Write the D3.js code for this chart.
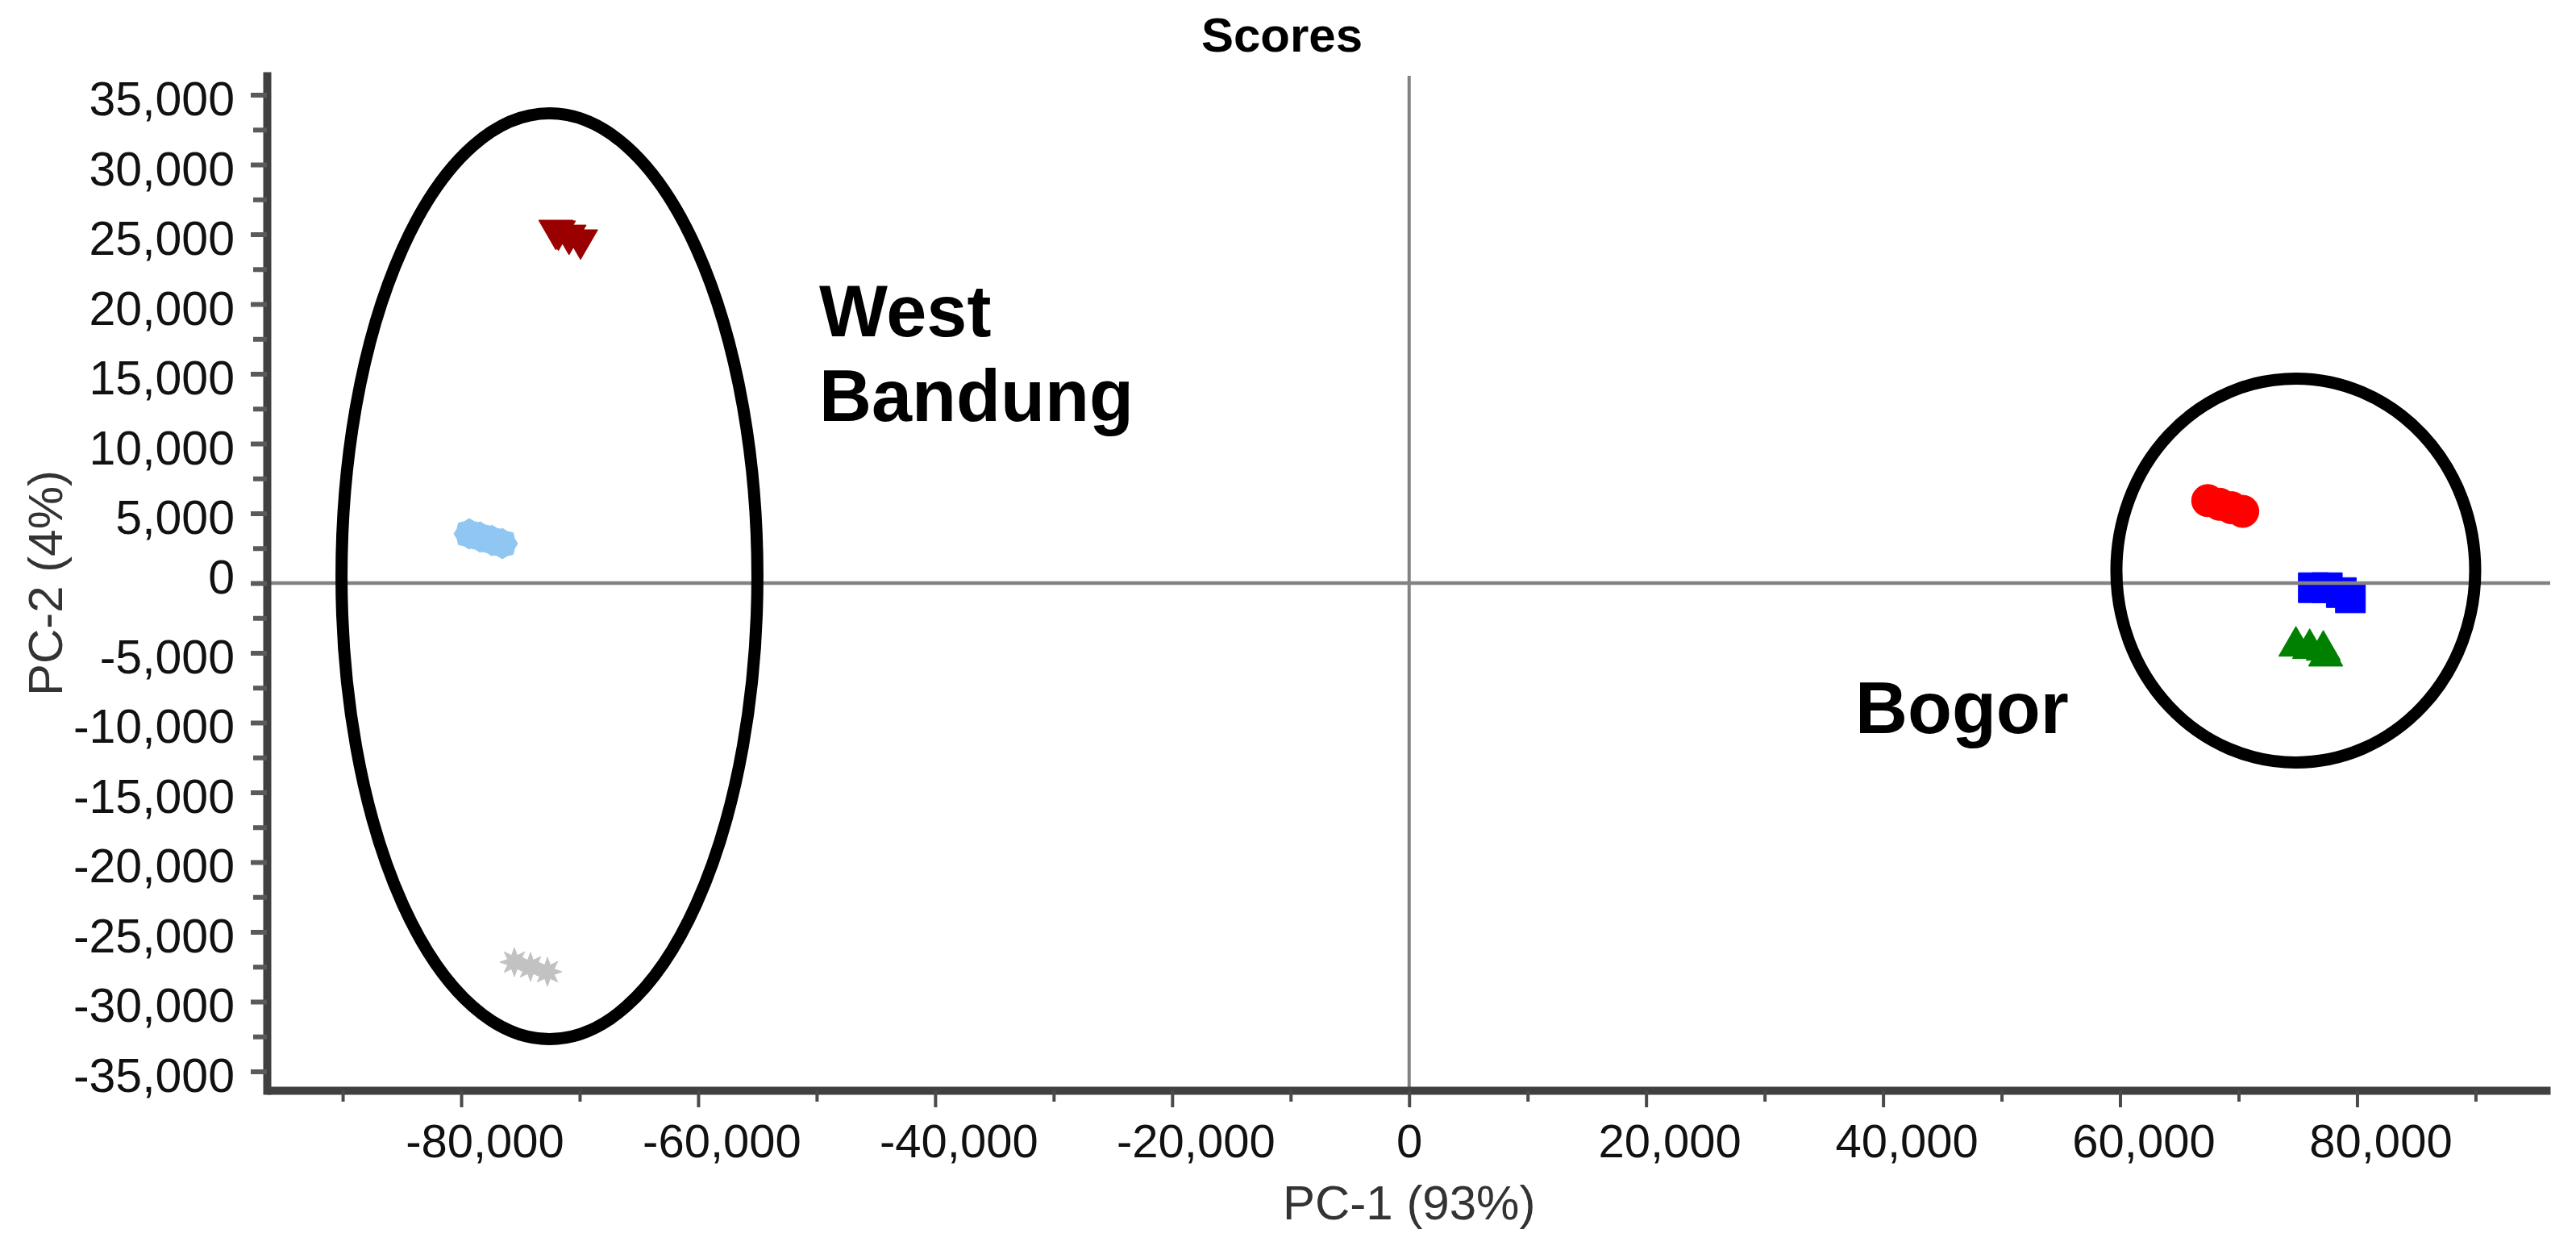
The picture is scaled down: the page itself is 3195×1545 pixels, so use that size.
<!DOCTYPE html>
<html><head><meta charset="utf-8">
<script src="https://cdn.jsdelivr.net/npm/d3@7"></script>
<style>html,body{margin:0;padding:0;background:#fff;} svg{display:block;}</style>
</head><body>
<svg id="chart" width="3195" height="1545"></svg>
<script>
// ---------- data ----------
const chartTitle = "Scores";
const xAxisTitle = "PC-1 (93%)";
const yAxisTitle = "PC-2 (4%)";

const xDomain = [-96400, 96300];
const yDomain = [-36360, 36360];
const xMajorTicks = [-80000, -60000, -40000, -20000, 0, 20000, 40000, 60000, 80000];
const xMinorTicks = [-90000, -70000, -50000, -30000, -10000, 10000, 30000, 50000, 70000, 90000];
const yMajorTicks = [35000, 30000, 25000, 20000, 15000, 10000, 5000, 0, -5000, -10000, -15000, -20000, -25000, -30000, -35000];
const yMinorTicks = [32500, 27500, 22500, 17500, 12500, 7500, 2500, -2500, -7500, -12500, -17500, -22500, -27500, -32500];

// sample scores [PC-1, PC-2]
const darkRedPoints   = [[-72010, 25300], [-71800, 25250], [-70900, 24950], [-69930, 24610]];
const lightBluePoints = [[-79320, 3530], [-78400, 3300], [-77400, 3050], [-76530, 2830]];
const greyPoints      = [[-75510, -27170], [-74150, -27510], [-72720, -27860]];
const redPoints       = [[67400, 5910], [68400, 5650], [69400, 5400], [70350, 5140]];
const bluePoints      = [[76310, -330], [77490, -330], [78670, -680], [79440, -1060]];
const greenPoints     = [[74840, -4530], [76000, -4700], [77150, -4820], [77350, -5240]];

// cluster outlines (centre and radii in score units)
const clusterNames = ["West Bandung", "Bogor"];
const clusterCx = [-72550, 74830];
const clusterCy = [490, 900];
const clusterRx = [17550, 15140];
const clusterRy = [33180, 13760];

// annotation labels
const annotationLines = [["West", "Bandung"], ["Bogor"]];
const annotationX = [-49790, 37640];
const annotationY = [[17690, 11620], [-10750]];

// ---------- drawing ----------
const svg = d3.select("#chart");
const FONT = "'Liberation Sans', Arial, sans-serif";

const x = d3.scaleLinear().domain(xDomain).range([331, 3163]);
const y = d3.scaleLinear().domain(yDomain).range([1352, 94]);

function starType(points, inner) {
  return {
    draw(ctx, size) {
      const r = Math.sqrt(size / Math.PI);
      for (let i = 0; i < points * 2; i++) {
        const a = Math.PI * i / points - Math.PI / 2;
        const rr = i % 2 ? r * inner : r;
        const px = rr * Math.cos(a), py = rr * Math.sin(a);
        if (i) ctx.lineTo(px, py); else ctx.moveTo(px, py);
      }
      ctx.closePath();
    }
  };
}

const series = [
  {pts: darkRedPoints,   color: "#9b0000", type: d3.symbolTriangle, size: 786, rot: 180},
  {pts: lightBluePoints, color: "#8fc7f2", type: starType(8, 0.86), size: 1134, rot: 0},
  {pts: greyPoints,      color: "#c2c2c2", type: starType(8, 0.5), size: 1018, rot: 0},
  {pts: redPoints,       color: "#ff0000", type: d3.symbolCircle, size: 1257, rot: 0},
  {pts: bluePoints,      color: "#0000ff", type: d3.symbolSquare, size: 1369, rot: 0},
  {pts: greenPoints,     color: "#008000", type: d3.symbolTriangle, size: 786, rot: 0}
];

const marks = svg.append("g");
series.forEach(s => {
  const sym = d3.symbol().type(s.type).size(s.size);
  marks.selectAll(null).data(s.pts).enter().append("path")
    .attr("d", sym)
    .attr("transform", d => `translate(${x(d[0])},${y(d[1])}) rotate(${s.rot})`)
    .attr("fill", s.color)
    .attr("stroke", s.color)
    .attr("stroke-width", 1);
});

// zero lines
svg.append("line")
  .attr("x1", x(xDomain[0])).attr("x2", x(xDomain[1]))
  .attr("y1", y(0)).attr("y2", y(0))
  .attr("stroke", "#828282").attr("stroke-width", 4.5);
svg.append("line")
  .attr("x1", x(0)).attr("x2", x(0))
  .attr("y1", y(yDomain[1])).attr("y2", y(yDomain[0]))
  .attr("stroke", "#828282").attr("stroke-width", 4);

// cluster ellipses
svg.append("g").selectAll("ellipse").data(clusterNames).enter().append("ellipse")
  .attr("cx", (d, i) => x(clusterCx[i]))
  .attr("cy", (d, i) => y(clusterCy[i]))
  .attr("rx", (d, i) => x(clusterCx[i] + clusterRx[i]) - x(clusterCx[i]))
  .attr("ry", (d, i) => y(clusterCy[i]) - y(clusterCy[i] + clusterRy[i]))
  .attr("fill", "none").attr("stroke", "#000").attr("stroke-width", 15);

// annotations
annotationLines.forEach((lines, i) => {
  svg.append("g").selectAll("text").data(lines).enter().append("text")
    .attr("x", x(annotationX[i]))
    .attr("y", (d, j) => y(annotationY[i][j]))
    .attr("font-family", FONT).attr("font-weight", "bold").attr("font-size", 90)
    .attr("fill", "#000")
    .text(d => d);
});

// axes
const locale = d3.formatLocale({decimal: ".", thousands: ",", grouping: [3], currency: ["", ""], minus: "-"});
const fmt = locale.format(",");
const gx = svg.append("g").attr("transform", `translate(0,${y(yDomain[0])})`)
  .call(d3.axisBottom(x).tickValues(xMajorTicks).tickSize(21).tickSizeOuter(0).tickFormat(fmt));
gx.selectAll(".tick text")
  .attr("y", 83).attr("dy", null)
  .attr("dx", d => d === 0 ? 0 : 29)
  .attr("font-family", FONT).attr("font-size", 58).attr("fill", "#111");
gx.selectAll(".tick line").attr("stroke", "#4a4a4a").attr("stroke-width", 4);
gx.select(".domain").attr("stroke", "#404040").attr("stroke-width", 10);

const gxm = svg.append("g").attr("transform", `translate(0,${y(yDomain[0])})`)
  .call(d3.axisBottom(x).tickValues(xMinorTicks).tickSize(14).tickSizeOuter(0).tickFormat(""));
gxm.select(".domain").remove();
gxm.selectAll(".tick line").attr("stroke", "#4a4a4a").attr("stroke-width", 4);

const gy = svg.append("g").attr("transform", `translate(${x(xDomain[0])},0)`)
  .call(d3.axisLeft(y).tickValues(yMajorTicks).tickSize(20).tickPadding(20).tickSizeOuter(0).tickFormat(fmt));
gy.selectAll(".tick text")
  .attr("dy", null)
  .attr("y", d => d === 0 ? 12 : 25)
  .attr("font-family", FONT).attr("font-size", 59).attr("fill", "#111");
gy.selectAll(".tick line").attr("stroke", "#5a5a5a").attr("stroke-width", 6);
gy.select(".domain").attr("stroke", "#404040").attr("stroke-width", 10).attr("stroke-linecap", "square");

const gym = svg.append("g").attr("transform", `translate(${x(xDomain[0])},0)`)
  .call(d3.axisLeft(y).tickValues(yMinorTicks).tickSize(17).tickSizeOuter(0).tickFormat(""));
gym.select(".domain").remove();
gym.selectAll(".tick line").attr("stroke", "#5a5a5a").attr("stroke-width", 6);

// titles
svg.append("text")
  .attr("x", 1590).attr("y", 64).attr("text-anchor", "middle")
  .attr("font-family", FONT).attr("font-weight", "bold").attr("font-size", 60)
  .attr("fill", "#000").text(chartTitle);
svg.append("text")
  .attr("x", x(0)).attr("y", 1512).attr("text-anchor", "middle")
  .attr("font-family", FONT).attr("font-size", 60).attr("fill", "#333").text(xAxisTitle);
svg.append("text")
  .attr("transform", `translate(77,${y(0)}) rotate(-90)`).attr("text-anchor", "middle")
  .attr("font-family", FONT).attr("font-size", 60).attr("fill", "#333").text(yAxisTitle);
</script>
</body></html>
